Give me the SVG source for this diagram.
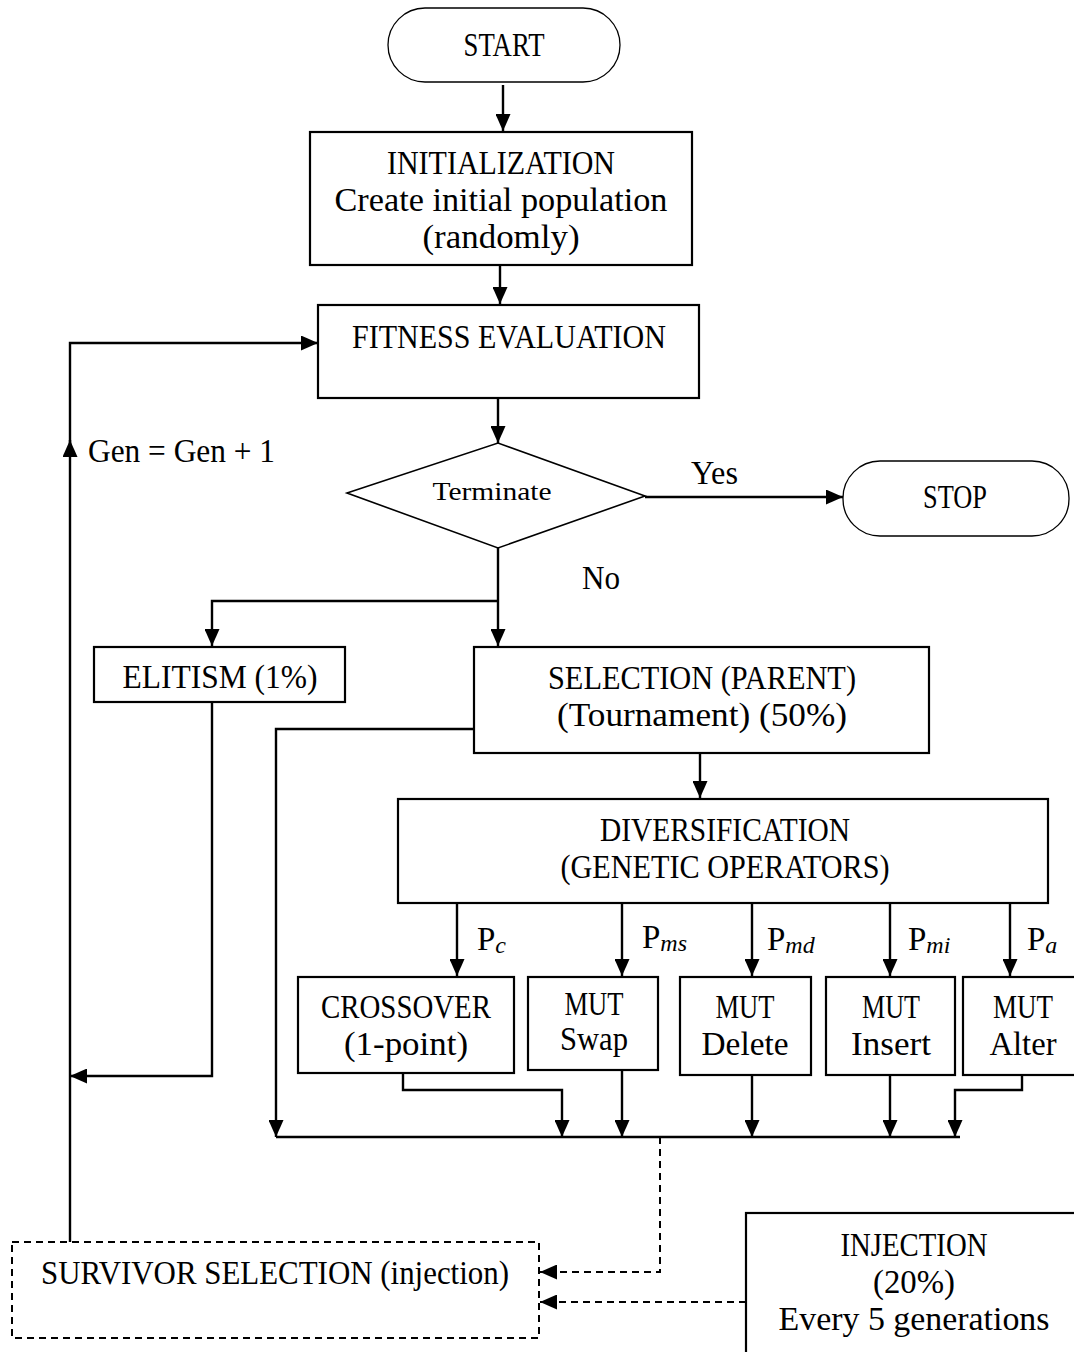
<svg xmlns="http://www.w3.org/2000/svg" width="1074" height="1352" viewBox="0 0 1074 1352">
  <style>
    .box { fill: #fff; stroke: #000; stroke-width: 2.2; }
    .term { fill: #fff; stroke: #000; stroke-width: 1.3; }
    .dbox { fill: none; stroke: #000; stroke-width: 2; stroke-dasharray: 7 5; }
    .t { font-family: "Liberation Serif", "DejaVu Serif", serif; font-size: 33px; fill: #000; text-anchor: middle; }
    .s { font-family: "Liberation Serif", "DejaVu Serif", serif; font-size: 25px; fill: #000; text-anchor: middle; }
    .l { font-family: "Liberation Serif", "DejaVu Serif", serif; font-size: 33px; fill: #000; }
    .sub { font-style: italic; font-size: 24px; }
    .c { fill: none; stroke: #000; stroke-width: 2.4; }
    .d { fill: none; stroke: #000; stroke-width: 2; stroke-dasharray: 7 5; }
  </style>
  <defs>
    <marker id="ah" markerUnits="userSpaceOnUse" markerWidth="17" markerHeight="15" viewBox="0 0 17 15" refX="17" refY="7.5" orient="auto">
      <path d="M0,0 L17,7.5 L0,15 Z" fill="#000"/>
    </marker>
  </defs>
  <rect width="1074" height="1352" fill="#fff"/>

  <!-- connectors -->
  <g id="connectors">
    <path class="c" d="M503,85 V131" marker-end="url(#ah)"/>
    <path class="c" d="M500,265 V304" marker-end="url(#ah)"/>
    <path class="c" d="M498,398 V443" marker-end="url(#ah)"/>
    <path class="c" d="M645,497 H843" marker-end="url(#ah)"/>
    <path class="c" d="M498,548 V646" marker-end="url(#ah)"/>
    <path class="c" d="M498,601 H212 V646" marker-end="url(#ah)"/>
    <!-- generation loop -->
    <path class="c" d="M70,1242 V440" marker-end="url(#ah)"/>
    <path class="c" d="M70,445 V343 H318" marker-end="url(#ah)"/>
    <!-- elitism to loop -->
    <path class="c" d="M212,702 V1076 H70" marker-end="url(#ah)"/>
    <!-- selection passthrough -->
    <path class="c" d="M474,729 H276 V1137" marker-end="url(#ah)"/>
    <path class="c" d="M700,753 V798" marker-end="url(#ah)"/>
    <!-- operators -->
    <path class="c" d="M457,903 V976" marker-end="url(#ah)"/>
    <path class="c" d="M622,903 V976" marker-end="url(#ah)"/>
    <path class="c" d="M752,903 V976" marker-end="url(#ah)"/>
    <path class="c" d="M890,903 V976" marker-end="url(#ah)"/>
    <path class="c" d="M1010,903 V976" marker-end="url(#ah)"/>
    <!-- merge -->
    <path class="c" d="M403,1073 V1090 H562 V1137" marker-end="url(#ah)"/>
    <path class="c" d="M622,1070 V1137" marker-end="url(#ah)"/>
    <path class="c" d="M752,1075 V1137" marker-end="url(#ah)"/>
    <path class="c" d="M890,1075 V1137" marker-end="url(#ah)"/>
    <path class="c" d="M1022,1075 V1090 H955 V1137" marker-end="url(#ah)"/>
    <path class="c" d="M276,1137 H960"/>
    <!-- to survivor selection -->
    <path class="d" d="M660,1137 V1272 H540" marker-end="url(#ah)"/>
    <path class="d" d="M746,1302 H540" marker-end="url(#ah)"/>
    <!-- labels -->
    <text class="l" x="88" y="462" textLength="187" lengthAdjust="spacingAndGlyphs">Gen = Gen + 1</text>
    <text class="l" x="691" y="484" textLength="47" lengthAdjust="spacingAndGlyphs">Yes</text>
    <text class="l" x="582" y="589" textLength="38" lengthAdjust="spacingAndGlyphs">No</text>
    <text class="l" x="477" y="950">P<tspan class="sub" dy="3">c</tspan></text>
    <text class="l" x="642" y="948">P<tspan class="sub" dy="3">ms</tspan></text>
    <text class="l" x="767" y="950">P<tspan class="sub" dy="3">md</tspan></text>
    <text class="l" x="908" y="950">P<tspan class="sub" dy="3">mi</tspan></text>
    <text class="l" x="1027" y="950">P<tspan class="sub" dy="3">a</tspan></text>
  </g>

  <g id="start">
    <rect class="term" x="388" y="8" width="232" height="74" rx="37"/>
    <text class="t" x="504" y="56" textLength="81" lengthAdjust="spacingAndGlyphs">START</text>
  </g>
  <g id="initialization">
    <rect class="box" x="310" y="132" width="382" height="133"/>
    <text class="t" x="501" y="174" textLength="228" lengthAdjust="spacingAndGlyphs">INITIALIZATION</text>
    <text class="t" x="501" y="211" textLength="333" lengthAdjust="spacingAndGlyphs">Create initial population</text>
    <text class="t" x="501" y="248" textLength="157" lengthAdjust="spacingAndGlyphs">(randomly)</text>
  </g>
  <g id="fitness">
    <rect class="box" x="318" y="305" width="381" height="93"/>
    <text class="t" x="509" y="348" textLength="314" lengthAdjust="spacingAndGlyphs">FITNESS EVALUATION</text>
  </g>
  <g id="terminate">
    <polygon class="box" points="347,493 498,443 645,496 498,548" style="stroke-width:1.6"/>
    <text class="s" x="492" y="500" textLength="119" lengthAdjust="spacingAndGlyphs">Terminate</text>
  </g>
  <g id="stop">
    <rect class="term" x="843" y="461" width="226" height="75" rx="37"/>
    <text class="t" x="955" y="508" textLength="64" lengthAdjust="spacingAndGlyphs">STOP</text>
  </g>
  <g id="elitism">
    <rect class="box" x="94" y="647" width="251" height="55"/>
    <text class="t" x="220" y="688" textLength="195" lengthAdjust="spacingAndGlyphs">ELITISM (1%)</text>
  </g>
  <g id="selection">
    <rect class="box" x="474" y="647" width="455" height="106"/>
    <text class="t" x="702" y="689" textLength="308" lengthAdjust="spacingAndGlyphs">SELECTION (PARENT)</text>
    <text class="t" x="702" y="726" textLength="290" lengthAdjust="spacingAndGlyphs">(Tournament) (50%)</text>
  </g>
  <g id="diversification">
    <rect class="box" x="398" y="799" width="650" height="104"/>
    <text class="t" x="725" y="841" textLength="250" lengthAdjust="spacingAndGlyphs">DIVERSIFICATION</text>
    <text class="t" x="725" y="878" textLength="329" lengthAdjust="spacingAndGlyphs">(GENETIC OPERATORS)</text>
  </g>
  <g id="crossover">
    <rect class="box" x="298" y="977" width="216" height="96"/>
    <text class="t" x="406" y="1018" textLength="170" lengthAdjust="spacingAndGlyphs">CROSSOVER</text>
    <text class="t" x="406" y="1055" textLength="124" lengthAdjust="spacingAndGlyphs">(1-point)</text>
  </g>
  <g id="mut-swap">
    <rect class="box" x="528" y="977" width="130" height="93"/>
    <text class="t" x="594" y="1015" textLength="59" lengthAdjust="spacingAndGlyphs">MUT</text>
    <text class="t" x="594" y="1050" textLength="68" lengthAdjust="spacingAndGlyphs">Swap</text>
  </g>
  <g id="mut-delete">
    <rect class="box" x="680" y="977" width="131" height="98"/>
    <text class="t" x="745" y="1018" textLength="59" lengthAdjust="spacingAndGlyphs">MUT</text>
    <text class="t" x="745" y="1055" textLength="87" lengthAdjust="spacingAndGlyphs">Delete</text>
  </g>
  <g id="mut-insert">
    <rect class="box" x="826" y="977" width="129" height="98"/>
    <text class="t" x="891" y="1018" textLength="58" lengthAdjust="spacingAndGlyphs">MUT</text>
    <text class="t" x="891" y="1055" textLength="80" lengthAdjust="spacingAndGlyphs">Insert</text>
  </g>
  <g id="mut-alter">
    <rect class="box" x="963" y="977" width="120" height="98"/>
    <text class="t" x="1023" y="1018" textLength="60" lengthAdjust="spacingAndGlyphs">MUT</text>
    <text class="t" x="1023" y="1055" textLength="67" lengthAdjust="spacingAndGlyphs">Alter</text>
  </g>
  <g id="survivor">
    <rect class="dbox" x="12" y="1242" width="527" height="96"/>
    <text class="t" x="275" y="1284" textLength="468" lengthAdjust="spacingAndGlyphs">SURVIVOR SELECTION (injection)</text>
  </g>
  <g id="injection">
    <rect class="box" x="746" y="1213" width="340" height="150"/>
    <text class="t" x="914" y="1256" textLength="147" lengthAdjust="spacingAndGlyphs">INJECTION</text>
    <text class="t" x="914" y="1293" textLength="82" lengthAdjust="spacingAndGlyphs">(20%)</text>
    <text class="t" x="914" y="1330" textLength="271" lengthAdjust="spacingAndGlyphs">Every 5 generations</text>
  </g>
</svg>
